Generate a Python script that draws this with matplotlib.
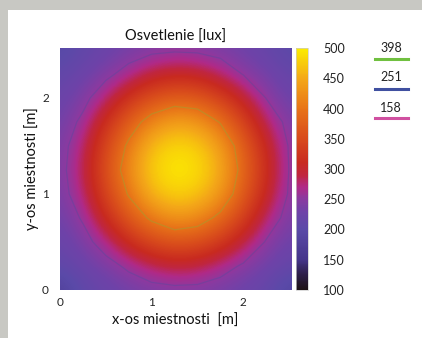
import numpy as np
import matplotlib
matplotlib.use("Agg")
import matplotlib.pyplot as plt
from matplotlib.colors import LinearSegmentedColormap
from matplotlib.lines import Line2D
from matplotlib.patches import Rectangle

plt.rcParams['font.family'] = ['Lato', 'DejaVu Sans']

# grid coordinates (m)
x_coords = [0.0, 0.25, 0.5, 0.75, 1.0, 1.25, 1.5, 1.75, 2.0, 2.25, 2.5]
y_coords = [0.0, 0.25, 0.5, 0.75, 1.0, 1.25, 1.5, 1.75, 2.0, 2.25, 2.5]

# illuminance [lux], rows = y (bottom -> top), cols = x (left -> right)
lux_y000 = [175, 208, 220, 230, 237, 241, 240, 233, 224, 213, 185]
lux_y025 = [208, 223, 238, 258, 281, 294, 288, 267, 246, 229, 214]
lux_y050 = [219, 238, 268, 315, 348, 362, 356, 330, 288, 248, 226]
lux_y075 = [228, 255, 313, 367, 406, 433, 421, 386, 336, 275, 237]
lux_y100 = [235, 275, 343, 402, 461, 481, 472, 433, 369, 303, 247]
lux_y125 = [238, 285, 355, 423, 478, 499, 490, 451, 382, 314, 250]
lux_y150 = [236, 277, 346, 407, 466, 486, 477, 438, 372, 306, 248]
lux_y175 = [229, 259, 319, 374, 418, 444, 434, 395, 341, 280, 239]
lux_y200 = [221, 240, 275, 324, 358, 373, 367, 339, 297, 250, 225]
lux_y225 = [210, 225, 242, 265, 293, 305, 300, 277, 249, 232, 216]
lux_y250 = [193, 210, 222, 233, 242, 246, 244, 237, 227, 216, 201]

contour_levels = [158, 251, 398]
contour_colors = ['#d050a0', '#4050a0', '#70c040']
legend_labels = ['398', '251', '158']
legend_colors = ['#70c040', '#4050a0', '#d050a0']

cbar_ticks = [100, 150, 200, 250, 300, 350, 400, 450, 500]
x_ticks = [0, 1, 2]
y_ticks = [0, 1, 2]

Z = np.array([lux_y000, lux_y025, lux_y050, lux_y075, lux_y100, lux_y125,
              lux_y150, lux_y175, lux_y200, lux_y225, lux_y250], dtype=float)

cmap = LinearSegmentedColormap.from_list('lux', [
    (0.0, '#1e1216'), (0.0625, '#2d1e48'), (0.125, '#45358a'),
    (0.25, '#5a4aa8'), (0.325, '#7042a8'), (0.375, '#8a3aa0'),
    (0.425, '#b02a88'), (0.475, '#c02640'), (0.525, '#c82a20'),
    (0.625, '#d84a1c'), (0.75, '#e87418'), (0.875, '#f4a818'),
    (1.0, '#fcec00')])

W, H = 422, 338
fig = plt.figure(figsize=(W / 100, H / 100), dpi=100)
fig.patch.set_facecolor('white')
# gray frame (top and left)
fig.patches.append(Rectangle((0, 1 - 10 / H), 1, 10 / H, transform=fig.transFigure,
                             facecolor='#c8c8c3', edgecolor='none', zorder=-10))
fig.patches.append(Rectangle((0, 0), 8 / W, 1, transform=fig.transFigure,
                             facecolor='#c8c8c3', edgecolor='none', zorder=-10))

ax = fig.add_axes([60 / W, 1 - 290 / H, 231 / W, 242 / H])
half = 0.125
im = ax.imshow(Z, origin='lower', cmap=cmap, vmin=100, vmax=500,
               extent=[x_coords[0] - half, x_coords[-1] + half,
                       y_coords[0] - half, y_coords[-1] + half],
               interpolation='bicubic', aspect='auto')
ax.contour(x_coords, y_coords, Z, levels=contour_levels, colors=contour_colors,
           linewidths=0.9, alpha=0.3)
ax.set_xlim(0, 2.52)
ax.set_ylim(0, 2.52)
for s in ax.spines.values():
    s.set_visible(False)
ax.set_xticks(x_ticks)
ax.set_yticks(y_ticks)
ax.tick_params(length=0, labelsize=8.5, colors='#222222')
ax.tick_params(axis='x', pad=5)
ax.tick_params(axis='y', pad=8)
ax.set_title('Osvetlenie [lux]', fontsize=10.5, pad=5, color='#111111')
ax.set_xlabel('x-os miestnosti  [m]', fontsize=10.5, labelpad=4, color='#111111')
ax.set_ylabel('y-os miestnosti [m]', fontsize=10.5, labelpad=2, color='#111111')

cax = fig.add_axes([296 / W, 1 - 290 / H, 12 / W, 242 / H])
cb = fig.colorbar(im, cax=cax, ticks=cbar_ticks)
cb.outline.set_edgecolor('#cccccc')
cb.outline.set_linewidth(0.5)
cax.tick_params(length=0, labelsize=9, pad=11, colors='#222222')

# contour legend
text_y = [48, 77, 108]
line_y = [59, 89, 118]
for lab, col, ty, ly in zip(legend_labels, legend_colors, text_y, line_y):
    fig.text(391 / W, 1 - ty / H, lab, ha='center', va='center', fontsize=9,
             color='#222222')
    fig.add_artist(Line2D([375 / W, 408 / W], [1 - ly / H, 1 - ly / H],
                          transform=fig.transFigure, color=col, linewidth=2.2))

fig.savefig('out.png', dpi=100)
